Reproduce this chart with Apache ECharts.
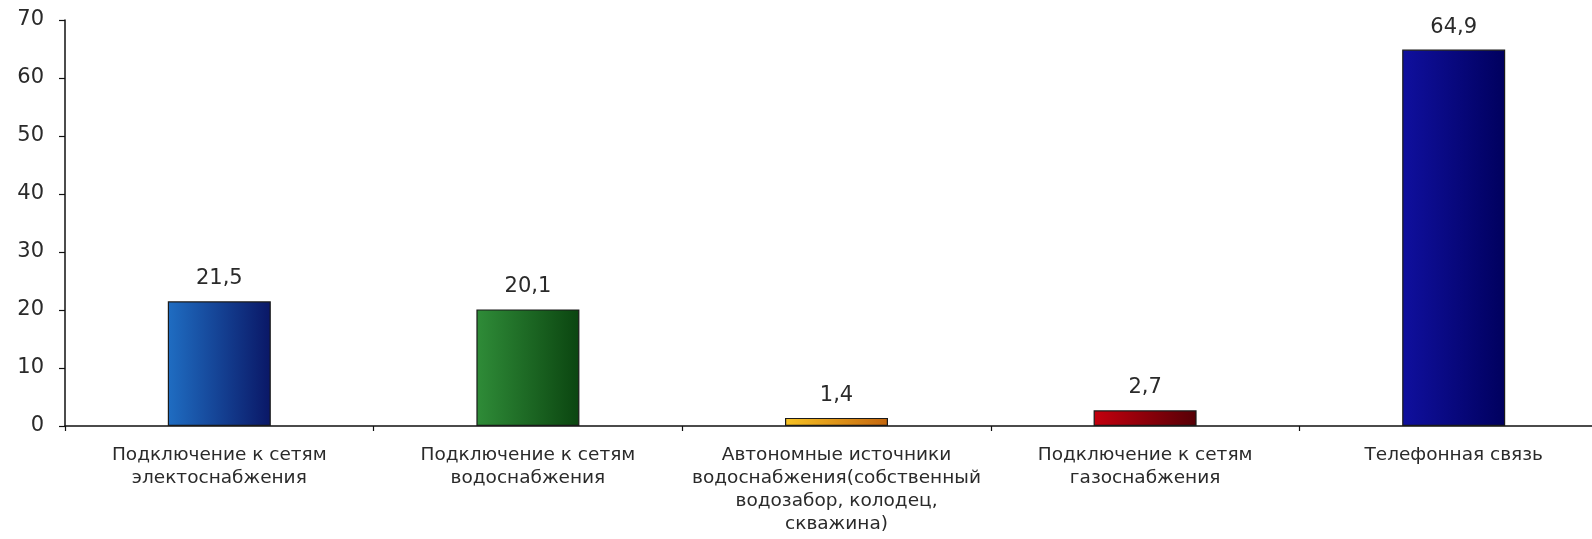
<!DOCTYPE html>
<html>
<head>
<meta charset="utf-8">
<script src="https://cdn.jsdelivr.net/npm/echarts@6/dist/echarts.min.js"></script>
<style>
html,body{margin:0;padding:0;background:#fff;width:100%;height:100%;overflow:hidden;}
#chart{width:100%;height:100%;}
</style>
</head>
<body>
<div id="chart"></div>
<script>
const categories = [
  'Подключение к сетям\nэлектоснабжения',
  'Подключение к сетям\nводоснабжения',
  'Автономные источники\nводоснабжения(собственный\nводозабор, колодец,\nскважина)',
  'Подключение к сетям\nгазоснабжения',
  'Телефонная связь'
];
const values = [21.5, 20.1, 1.4, 2.7, 64.9];
const yTicks = [0, 10, 20, 30, 40, 50, 60, 70];
const barColors = [
  ['#1f6dc2', '#0a1766'],
  ['#2f8c38', '#0b4510'],
  ['#f7c224', '#c4660e'],
  ['#c4000e', '#560006'],
  ['#10109e', '#00005e']
];

const FONT = 'DejaVu Sans, Liberation Sans, Arial, sans-serif';
const chart = echarts.init(document.getElementById('chart'), null, {renderer: 'canvas'});
chart.setOption({
  animation: false,
  backgroundColor: '#ffffff',
  grid: {left: 65, top: 20, width: 1543, height: 406, containLabel: false, outerBoundsMode: 'none'},
  xAxis: {
    type: 'category',
    data: categories,
    boundaryGap: true,
    axisLine: {show: true, lineStyle: {color: '#111', width: 1.5}},
    axisTick: {show: true, length: 5, inside: false, lineStyle: {color: '#111', width: 1.2}},
    axisLabel: {
      interval: 0,
      margin: 18,
      color: '#2a2a2a',
      fontFamily: FONT,
      fontSize: 18.5,
      lineHeight: 23
    },
    splitLine: {show: false}
  },
  yAxis: {
    type: 'value',
    min: yTicks[0],
    max: yTicks[yTicks.length - 1],
    interval: 10,
    axisLine: {show: true, lineStyle: {color: '#111', width: 1.5}},
    axisTick: {show: true, length: 6, lineStyle: {color: '#111', width: 1.2}},
    axisLabel: {
      margin: 21,
      color: '#2a2a2a',
      fontFamily: FONT,
      fontSize: 21
    },
    splitLine: {show: false}
  },
  series: [{
    type: 'bar',
    barWidth: 103,
    data: values.map((v, i) => ({
      value: v,
      itemStyle: {
        color: new echarts.graphic.LinearGradient(0, 0, 1, 0, [
          {offset: 0, color: barColors[i][0]},
          {offset: 1, color: barColors[i][1]}
        ]),
        borderColor: '#1a1a1a',
        borderWidth: 1.2
      }
    })),
    label: {
      show: true,
      position: 'top',
      distance: 12,
      color: '#2a2a2a',
      fontFamily: FONT,
      fontSize: 21,
      formatter: p => String(p.value).replace('.', ',')
    }
  }]
});
</script>
</body>
</html>
